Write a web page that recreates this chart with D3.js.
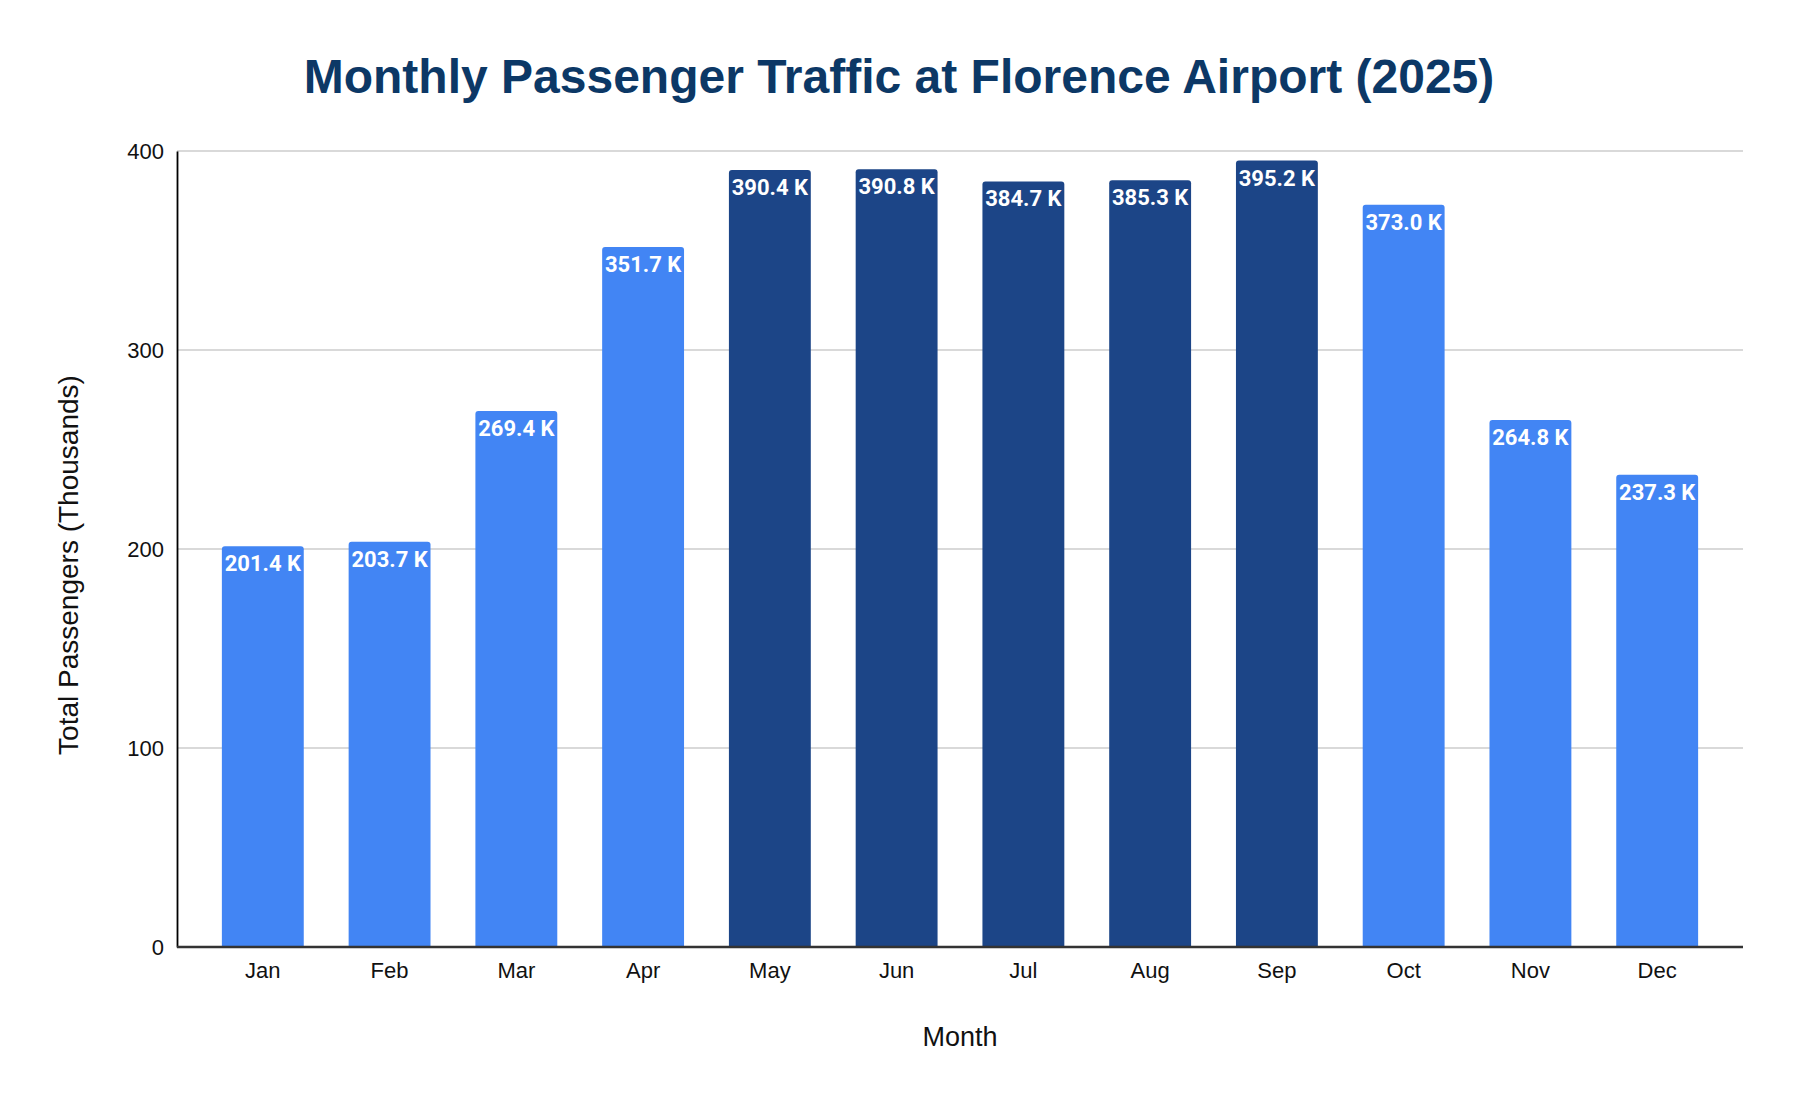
<!DOCTYPE html>
<html>
<head>
<meta charset="utf-8">
<script src="https://cdn.jsdelivr.net/npm/d3@7"></script>
<style>
    body { margin: 0; background: #fff; }
    .tick text { font-family: "Liberation Sans", Arial, sans-serif; font-size: 22px; fill: #111; }
    .bar-label { font-family: Roboto, sans-serif; font-weight: 700; font-size: 22px; fill: #fff; }
</style>
</head>
<body>
<svg id="chart" width="1798" height="1108"></svg>
<script>
// Chart data
const months = ["Jan", "Feb", "Mar", "Apr", "May", "Jun", "Jul", "Aug", "Sep", "Oct", "Nov", "Dec"];
const passengers = [201.4, 203.7, 269.4, 351.7, 390.4, 390.8, 384.7, 385.3, 395.2, 373.0, 264.8, 237.3];
const peakMonths = ["May", "Jun", "Jul", "Aug", "Sep"];
const yTicks = [0, 100, 200, 300, 400];

const W = 1798, H = 1108;
const margin = { top: 151, right: 55, bottom: 161, left: 177 };

const svg = d3.select("#chart");

const x = d3.scaleBand()
    .domain(months)
    .range([margin.left, W - margin.right])
    .padding(0.354);

const y = d3.scaleLinear()
    .domain([0, 400])
    .range([H - margin.bottom, margin.top]);

// Gridlines
svg.append("g")
    .selectAll("line")
    .data(yTicks.filter(t => t > 0))
    .join("line")
    .attr("x1", margin.left)
    .attr("x2", W - margin.right)
    .attr("y1", d => y(d))
    .attr("y2", d => y(d))
    .attr("stroke", "#cccccc")
    .attr("stroke-width", 1.5);

// Bars with slightly rounded tops
const r = 3;
function barPath(d, i) {
    const x0 = x(months[i]), w = x.bandwidth();
    const yt = y(d), yb = y(0);
    return `M${x0},${yb} V${yt + r} Q${x0},${yt} ${x0 + r},${yt} H${x0 + w - r} Q${x0 + w},${yt} ${x0 + w},${yt + r} V${yb} Z`;
}

svg.append("g")
    .selectAll("path")
    .data(passengers)
    .join("path")
    .attr("d", barPath)
    .attr("fill", (d, i) => peakMonths.includes(months[i]) ? "#1c4587" : "#4285f4");

// Value labels inside bar tops
svg.append("g")
    .selectAll("text")
    .data(passengers)
    .join("text")
    .attr("class", "bar-label")
    .attr("x", (d, i) => x(months[i]) + x.bandwidth() / 2)
    .attr("y", d => y(d) + 25)
    .attr("text-anchor", "middle")
    .text(d => d.toFixed(1) + " K");

// Y axis
const yAxis = svg.append("g")
    .attr("transform", `translate(${margin.left},0)`)
    .call(d3.axisLeft(y).tickValues(yTicks).tickSize(0).tickPadding(13));
yAxis.select(".domain").attr("stroke", "#000").attr("stroke-width", 1.8);

// X axis
const xAxis = svg.append("g")
    .attr("transform", `translate(0,${y(0)})`)
    .call(d3.axisBottom(x).tickSize(0).tickPadding(15));
xAxis.select(".domain").attr("stroke", "#333").attr("stroke-width", 2.5)
    .attr("d", `M${margin.left},0H${W - margin.right}`);

// Title
svg.append("text")
    .attr("x", W / 2)
    .attr("y", 93)
    .attr("text-anchor", "middle")
    .style("font-family", "'Liberation Sans', Arial, sans-serif")
    .style("font-weight", "700")
    .style("font-size", "48px")
    .style("fill", "#0c3866")
    .text("Monthly Passenger Traffic at Florence Airport (2025)");

// Axis titles
svg.append("text")
    .attr("x", (margin.left + W - margin.right) / 2)
    .attr("y", 1046)
    .attr("text-anchor", "middle")
    .style("font-family", "'Liberation Sans', Arial, sans-serif")
    .style("font-size", "27px")
    .style("fill", "#111")
    .text("Month");

svg.append("text")
    .attr("transform", "translate(78,565) rotate(-90)")
    .attr("text-anchor", "middle")
    .style("font-family", "'Liberation Sans', Arial, sans-serif")
    .style("font-size", "28px")
    .style("fill", "#111")
    .text("Total Passengers (Thousands)");
</script>
</body>
</html>
